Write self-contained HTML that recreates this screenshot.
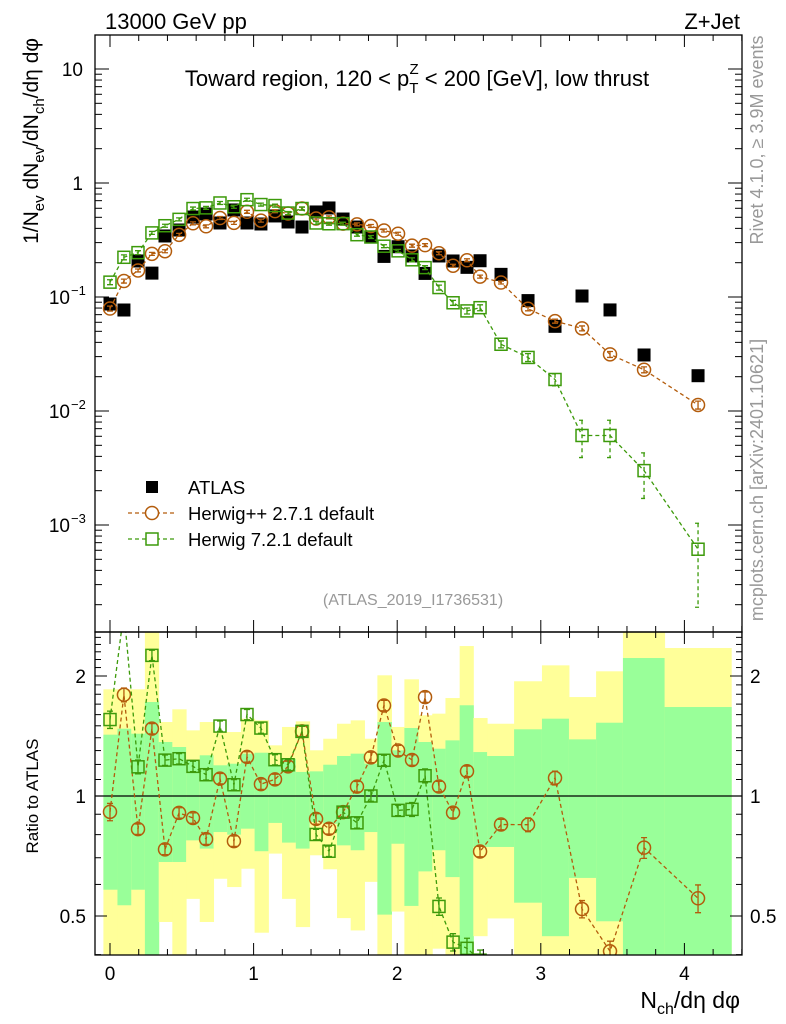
<!DOCTYPE html>
<html><head><meta charset="utf-8"><style>
html,body{margin:0;padding:0;background:#fff;overflow:hidden;width:786px;height:1024px;}
svg{display:block;font-family:"Liberation Sans",Arial,sans-serif;}
</style></head><body>
<svg id="chart" width="786" height="1024" viewBox="0 0 786 1024" xmlns="http://www.w3.org/2000/svg">
<defs>
<clipPath id="clipMain"><rect x="95" y="35" width="647" height="597"/></clipPath>
<clipPath id="clipRatio"><rect x="95" y="632" width="647" height="323"/></clipPath>
</defs>
<g id="bands" clip-path="url(#clipRatio)"></g>
<g id="ratioMarks" clip-path="url(#clipRatio)"></g>
<g id="mainMarks" clip-path="url(#clipMain)"></g>
<g id="axes"></g>
<text x="105" y="29" font-size="22">13000 GeV pp</text>
<text x="740" y="29" font-size="22" text-anchor="end">Z+Jet</text>
<text x="417" y="86" font-size="22" text-anchor="middle">Toward region, 120 &lt; p<tspan font-size="15" dy="7">T</tspan><tspan font-size="15" dx="-9" dy="-19">Z</tspan><tspan dy="12"> &lt; 200 [GeV], low thrust</tspan></text>
<text transform="translate(38,38) rotate(-90)" font-size="21" text-anchor="end">1/N<tspan font-size="15" dy="6">ev</tspan><tspan dy="-6"> dN</tspan><tspan font-size="15" dy="6">ev</tspan><tspan dy="-6">/dN</tspan><tspan font-size="15" dy="6">ch</tspan><tspan dy="-6">/dη dφ</tspan></text>
<text transform="translate(763,140) rotate(-90)" font-size="18" fill="#999" text-anchor="middle">Rivet 4.1.0, ≥ 3.9M events</text>
<text transform="translate(763,480) rotate(-90)" font-size="18" fill="#999" text-anchor="middle">mcplots.cern.ch [arXiv:2401.10621]</text>
<text x="413" y="605" font-size="16" fill="#999" text-anchor="middle">(ATLAS_2019_I1736531)</text>
<text transform="translate(38,796) rotate(-90)" font-size="17" text-anchor="middle">Ratio to ATLAS</text>
<text x="740" y="1008" font-size="23" text-anchor="end">N<tspan font-size="16" dy="6">ch</tspan><tspan dy="-6">/dη dφ</tspan></text>
<g id="legend">
<rect x="146" y="481" width="12" height="12" fill="#000"/>
<text x="188" y="494" font-size="18.5">ATLAS</text>
<line x1="128" y1="513" x2="176" y2="513" stroke="#b35c0c" stroke-width="1.3" stroke-dasharray="4,3"/>
<circle cx="152" cy="513" r="6.5" fill="#fff" stroke="#b35c0c" stroke-width="1.5"/>
<text x="188" y="520" font-size="18.5">Herwig++ 2.7.1 default</text>
<line x1="128" y1="539" x2="176" y2="539" stroke="#3c9a0a" stroke-width="1.3" stroke-dasharray="4,3"/>
<rect x="146" y="533" width="12" height="12" fill="#fff" stroke="#3c9a0a" stroke-width="1.5"/>
<text x="188" y="546" font-size="18.5">Herwig 7.2.1 default</text>
</g>
</svg>
<script>
const xVals=[0,.097,.195,.292,.383,.481,.578,.669,.766,.863,.954,1.051,1.149,1.24,1.337,1.435,1.525,1.623,1.72,1.817,1.908,2.006,2.103,2.194,2.291,2.389,2.486,2.577,2.723,2.911,3.099,3.287,3.482,3.719,4.095];
const atlas=[.0868,.0769,.207,.162,.343,.387,.503,.535,.446,.58,.446,.437,.514,.455,.411,.557,.604,.483,.411,.336,.227,.276,.229,.161,.229,.207,.182,.208,.158,.093,.0553,.102,.077,.031,.0204];
const hpp=[.0792,.138,.171,.239,.252,.351,.443,.417,.493,.447,.559,.468,.566,.540,.597,.488,.500,.440,.434,.420,.383,.359,.282,.285,.242,.188,.210,.151,.134,.0788,.0614,.0531,.0314,.0230,.0113];
const h7=[.135,.223,.245,.365,.422,.480,.597,.605,.668,.619,.714,.647,.634,.545,.597,.446,.439,.440,.352,.336,.279,.254,.212,.181,.121,.089,.0755,.0806,.0385,.0295,.0189,.0061,.0061,.0030,.000613];
const hppErr=[.05,.04,.03,.03,.03,.03,.03,.03,.03,.03,.03,.03,.03,.03,.03,.03,.03,.03,.03,.03,.03,.03,.03,.03,.03,.03,.03,.03,.03,.04,.04,.05,.06,.06,.08];
const h7Err=[.05,.05,.04,.03,.03,.03,.03,.03,.03,.03,.03,.03,.03,.03,.03,.03,.03,.03,.03,.03,.03,.03,.04,.04,.05,.05,.06,.06,.07,.08,.12,.36,.36,.43,.69];
const binEdges=[-.046,.052,.148,.243,.339,.434,.530,.625,.721,.816,.912,1.007,1.103,1.198,1.294,1.39,1.485,1.581,1.676,1.772,1.862,1.96,2.05,2.148,2.244,2.336,2.435,2.53,2.626,2.814,3.008,3.196,3.385,3.572,3.862,4.326];
const yellowHi=[1.852,1.852,1.852,2.6,1.533,1.65,1.461,1.533,1.447,1.447,1.563,1.548,1.34,1.49,1.539,1.302,1.392,1.518,1.548,1.392,2.008,1.49,1.962,1.594,1.609,1.761,2.378,1.569,1.518,1.94,2.127,1.771,2.055,2.6,2.351];
const greenHi=[1.425,1.475,1.433,1.721,1.366,1.327,1.229,1.265,1.194,1.205,1.277,1.284,1.198,1.24,1.149,1.153,1.198,1.26,1.277,1.205,1.533,1.302,1.481,1.366,1.314,1.379,1.689,1.289,1.26,1.47,1.563,1.387,1.527,2.219,1.672];
const greenLo=[.582,.532,.582,.3,.683,.683,.774,.738,.812,.8,.828,.727,.856,.764,.738,.861,.852,.752,.731,.812,.504,.759,.53,.647,.731,.626,.3,.745,.745,.54,.445,.623,.485,.3,.3];
const yellowLo=[.3,.3,.3,.3,.483,.3,.552,.483,.62,.591,.657,.454,.717,.552,.469,.71,.655,.494,.46,.609,.3,.513,.3,.3,.414,.3,.3,.445,.493,.3,.3,.3,.3,.3,.3];
const xTicks=[0,1,2,3,4];
const ratioTicks=[0.5,1,2];
const ratioTickLabels=["0.5","1","2"];

const NS="http://www.w3.org/2000/svg";
const X=v=>110+v*143.6;
const Ym=v=>183-114*Math.log10(v);
const Yr=v=>796-120*Math.log2(v);
function mk(tag,attrs,parent){const e=document.createElementNS(NS,tag);for(const k in attrs)e.setAttribute(k,attrs[k]);parent.appendChild(e);return e;}
const OR="#b35c0c",GR="#3c9a0a";

const bands=document.getElementById('bands');
for(let i=0;i<binEdges.length-1;i++){
  const x1=X(binEdges[i]),x2=X(binEdges[i+1]);
  let r=mk('rect',{x:x1,y:Yr(yellowHi[i]),width:x2-x1+0.5,height:Yr(yellowLo[i])-Yr(yellowHi[i]),fill:"#ffff99"},bands);
  
  
  r=mk('rect',{x:x1,y:Yr(greenHi[i]),width:x2-x1+0.5,height:Yr(greenLo[i])-Yr(greenHi[i]),fill:"#99ff99"},bands);
  
  
}
mk('line',{x1:95,y1:Yr(1),x2:742,y2:Yr(1),stroke:"#000","stroke-width":1.3},bands);

function series(g,vals,errs,yf,col,shape,name){
  let d="";vals.forEach((v,i)=>{d+=(i?"L":"M")+X(xVals[i])+","+yf(v);});
  const p=mk('path',{d:d,fill:"none",stroke:col,"stroke-width":1.3,"stroke-dasharray":"4,3"},g);
  
  
  vals.forEach((v,i)=>{
    const x=X(xVals[i]),y=yf(v);
    const e=errs[i]*v;
    const yt=yf(v+e),yb=yf(Math.max(v-e,v*1e-4));
    const eb=mk('path',{d:`M${x},${yt}L${x},${yb}M${x-3},${yt}L${x+3},${yt}M${x-3},${yb}L${x+3},${yb}`,stroke:col,"stroke-width":1.3,fill:"none","stroke-dasharray":errs[i]>.1?"4,3":"none"},g);
    
    
    let m;
    if(shape==="c") m=mk('circle',{cx:x,cy:y,r:6.5,fill:"none",stroke:col,"stroke-width":1.5},g);
    else m=mk('rect',{x:x-6,y:y-6,width:12,height:12,fill:"none",stroke:col,"stroke-width":1.5},g);
    
    
  });
}
const mm=document.getElementById('mainMarks');
atlas.forEach((v,i)=>{
  const r=mk('rect',{x:X(xVals[i])-6.5,y:Ym(v)-6.5,width:13,height:13,fill:"#000"},mm);
  
  
});
series(mm,hpp,hppErr,Ym,OR,"c","herwigpp");
series(mm,h7,h7Err,Ym,GR,"s","herwig7");
const rm=document.getElementById('ratioMarks');
series(rm,hpp.map((v,i)=>v/atlas[i]),hppErr,Yr,OR,"c","herwigpp-ratio");
series(rm,h7.map((v,i)=>v/atlas[i]),h7Err,Yr,GR,"s","herwig7-ratio");

const ax=document.getElementById('axes');
mk('rect',{x:95,y:35,width:647,height:597,fill:"none",stroke:"#000","stroke-width":1.3},ax);
mk('rect',{x:95,y:632,width:647,height:323,fill:"none",stroke:"#000","stroke-width":1.3},ax);
for(let k=0;k<=22;k++){
  const v=k*0.2;const big=k%5===0;const L=big?12:6,x=X(v);
  if(x<95||x>742)continue;
  mk('line',{x1:x,y1:35,x2:x,y2:35+L,stroke:"#000"},ax);
  mk('line',{x1:x,y1:632,x2:x,y2:632-L,stroke:"#000"},ax);
  mk('line',{x1:x,y1:632,x2:x,y2:632+L,stroke:"#000"},ax);
  mk('line',{x1:x,y1:955,x2:x,y2:955-L,stroke:"#000"},ax);
}
xTicks.forEach(v=>{const t=mk('text',{x:X(v),y:980,"font-size":19,"text-anchor":"middle"},ax);t.textContent=v;
  
  });
for(let d=-4;d<=1;d++){for(let k=1;k<=9;k++){const v=k*Math.pow(10,d);const y=Ym(v);if(y<35||y>632)continue;
  const L=k===1?14:7;
  mk('line',{x1:95,y1:y,x2:95+L,y2:y,stroke:"#000"},ax);
  mk('line',{x1:742,y1:y,x2:742-L,y2:y,stroke:"#000"},ax);}}
const mainLabels=[[10,"10"],[1,"1"]];
mainLabels.forEach(([v,s])=>{const t=mk('text',{x:83,y:Ym(v)+7,"font-size":19,"text-anchor":"end"},ax);t.textContent=s;
  
  });
[-1,-2,-3].forEach(p=>{const t=mk('text',{x:70,y:Ym(Math.pow(10,p))+7,"font-size":19,"text-anchor":"end"},ax);t.textContent="10";
  
  
  const s=mk('text',{x:71,y:Ym(Math.pow(10,p))-2,"font-size":13},ax);s.textContent="−"+(-p);
  
  });
for(let v=0.4;v<=2.6;v+=0.1){const y=Yr(v);if(y<632||y>955)continue;
  mk('line',{x1:95,y1:y,x2:101,y2:y,stroke:"#000"},ax);mk('line',{x1:742,y1:y,x2:736,y2:y,stroke:"#000"},ax);}
ratioTicks.forEach((v,i)=>{const y=Yr(v);
  mk('line',{x1:95,y1:y,x2:107,y2:y,stroke:"#000"},ax);mk('line',{x1:742,y1:y,x2:730,y2:y,stroke:"#000"},ax);
  let t=mk('text',{x:86,y:y+7,"font-size":19,"text-anchor":"end"},ax);t.textContent=ratioTickLabels[i];
  
  
  t=mk('text',{x:750,y:y+7,"font-size":19},ax);t.textContent=ratioTickLabels[i];
  
  });
</script>
</body></html>
